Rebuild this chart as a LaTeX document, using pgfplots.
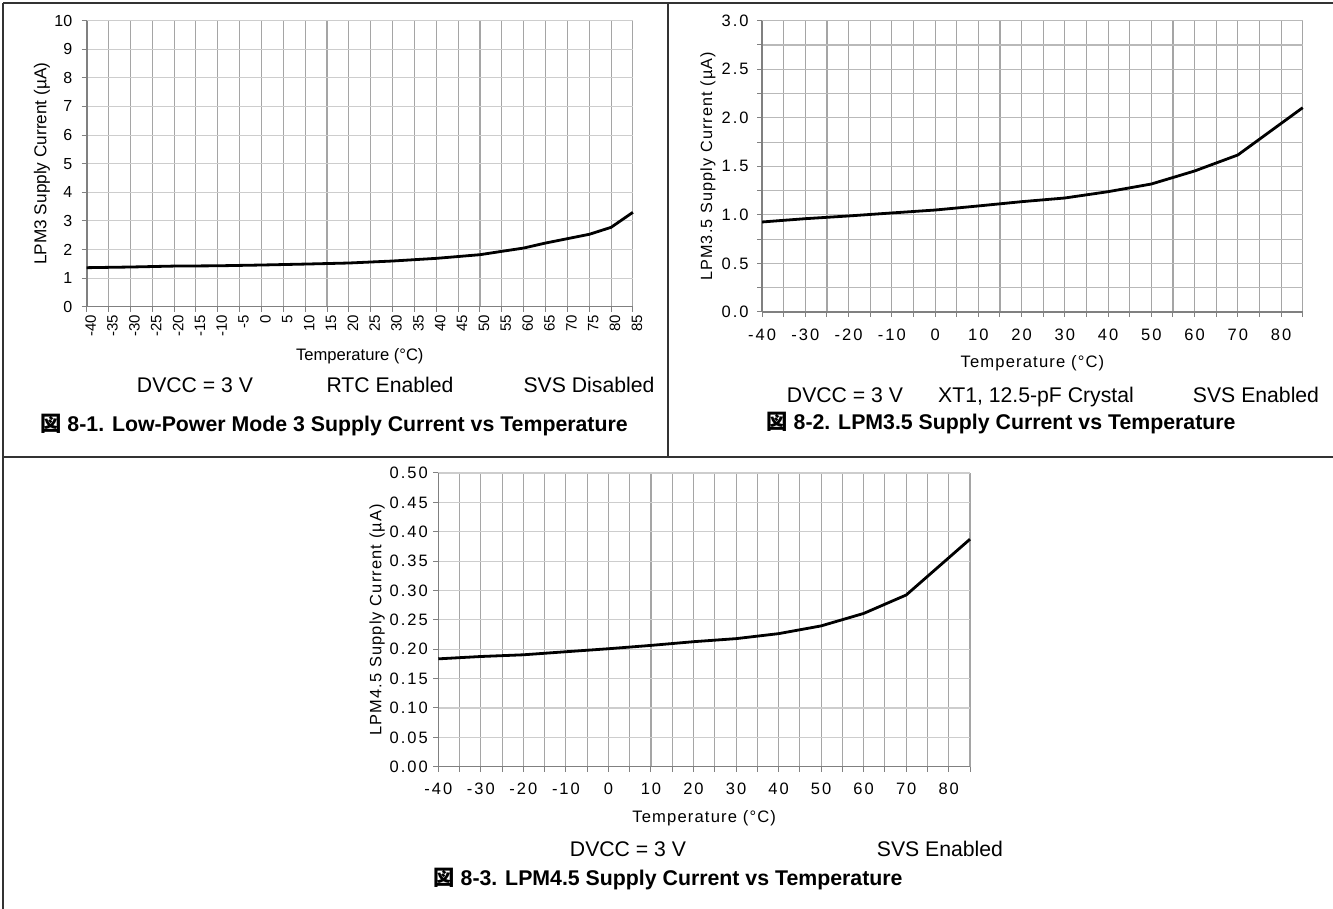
\documentclass[border=0pt]{standalone}
\usepackage{pgfplots}
\pgfplotsset{compat=1.18}
\usepackage{fontspec}
\setmainfont{Liberation Sans}
\newfontfamily\spacedA[LetterSpace=12]{Liberation Sans}
\newfontfamily\spacedB[LetterSpace=7]{Liberation Sans}
\newfontfamily\cjk{Noto Sans CJK SC}
\definecolor{vgrid}{RGB}{165,165,165}
\definecolor{hgrid}{RGB}{205,205,205}
\definecolor{hgridb}{RGB}{185,185,185}
\definecolor{axgray}{RGB}{128,128,128}

\pgfplotstableread{
T I
-40 1.364
-30 1.387
-20 1.420
-10 1.430
0 1.457
10 1.490
20 1.527
30 1.597
40 1.690
50 1.818
55 1.935
60 2.050
65 2.226
70 2.378
75 2.530
80 2.774
85 3.300
}\lpmthree

\pgfplotstableread{
T I
-40 0.927
-30 0.961
-20 0.989
-10 1.020
0 1.050
10 1.092
20 1.136
30 1.174
40 1.239
50 1.318
60 1.452
70 1.617
85 2.104
}\lpmthreefive

\pgfplotstableread{
T I
-40 0.1836
-30 0.1876
-20 0.1905
-10 0.1957
0 0.2008
10 0.2065
20 0.2128
30 0.2180
40 0.2265
50 0.2397
60 0.2609
70 0.2923
85 0.3873
}\lpmfourfive

\pgfplotsset{
  myaxis/.style={
    scale only axis,
    anchor=south west,
    axis lines=left,
    axis line style={-, draw=axgray, line width=1.6pt},
    xmin=-40, xmax=85,
    tick align=outside,
    major tick length=5pt,
    minor tick length=5pt,
    every tick/.style={draw=axgray, line width=1pt},
    major x grid style={draw=vgrid, line width=1.1pt},
    minor x grid style={draw=vgrid, line width=1.1pt},
    major y grid style={draw=hgrid, line width=1.1pt},
    minor y grid style={draw=hgrid, line width=1.1pt},
    /pgf/number format/assume math mode=true,
    clip=false,
  },
  curve/.style={black, line width=2.8pt, no marks, line join=round},
}
\newcommand{\annfont}{\fontsize{21.2}{21.2}\selectfont}
\newcommand{\capfont}{\fontsize{21.3}{21.3}\selectfont\bfseries}

\begin{document}
\begin{tikzpicture}[x=1pt,y=1pt]
\useasboundingbox (0pt,0pt) rectangle (1333pt,909pt);
% frame
\draw[black!80, line width=1.3pt] (3pt,906pt) -- (1333pt,906pt);
\draw[black!80, line width=1.3pt] (3pt,452pt) -- (1333pt,452pt);
\draw[black!80, line width=1.3pt] (3pt,906pt) -- (3pt,0pt);
\draw[black!80, line width=1.3pt] (668pt,906pt) -- (668pt,452pt);

% ---------- Panel 1 ----------
\begin{axis}[myaxis,
  at={(86.7pt,602.3pt)}, width=546.2pt, height=286pt,
  ymin=0, ymax=10,
  xtick={-40,-35,...,85}, ytick={0,1,...,10},
  grid=major,
  x tick label style={rotate=90, anchor=east, yshift=-4pt, font=\fontsize{15}{15}\selectfont},
  y tick label style={xshift=-6pt, font=\fontsize{16}{16}\selectfont},
  xlabel={Temperature (°C)},
  ylabel={LPM3 Supply Current (µA)},
  xlabel style={font=\fontsize{16.6}{16.6}\selectfont, at={(axis description cs:0.5,-0.172)}, anchor=center},
  ylabel style={font=\fontsize{17.2}{17.2}\selectfont, at={(axis description cs:-0.082,0.5)}, anchor=center},
]
\addplot[curve] table {\lpmthree};
\end{axis}
\node[anchor=base, font=\annfont] at (195pt,516pt) {DVCC = 3 V};
\node[anchor=base, font=\annfont] at (390pt,516pt) {RTC Enabled};
\node[anchor=base, font=\annfont] at (589pt,516pt) {SVS Disabled};
\node[anchor=base, font=\capfont] at (334pt,477pt) {{\cjk 図} 8-1. Low-Power Mode 3 Supply Current vs Temperature};

% ---------- Panel 2 ----------
\begin{axis}[myaxis,
  at={(762.1pt,597pt)}, width=540.6pt, height=291.3pt,
  ymin=0, ymax=3,
  xtick={-40,-30,...,80}, minor xtick={-35,-25,...,85},
  ytick={0,0.5,...,3}, minor ytick={0.25,0.75,...,2.75},
  grid=both,
  major y grid style={draw=hgridb, line width=1.1pt},
  minor y grid style={draw=hgridb, line width=1.1pt},
  yticklabel style={xshift=-5pt, /pgf/number format/.cd, fixed, fixed zerofill, precision=1},
  xticklabel style={yshift=-8pt},
  tick label style={font=\spacedA\fontsize{16.5}{16.5}\selectfont},
  xlabel={Temperature (°C)},
  ylabel={LPM3.5 Supply Current (µA)},
  xlabel style={font=\spacedB\fontsize{16.6}{16.6}\selectfont, at={(axis description cs:0.5,-0.176)}, anchor=center},
  ylabel style={font=\spacedB\fontsize{16.2}{16.2}\selectfont, at={(axis description cs:-0.100,0.5)}, anchor=center},
]
\addplot[curve] table {\lpmthreefive};
\end{axis}
\node[anchor=base, font=\annfont] at (845pt,506pt) {DVCC = 3 V};
\node[anchor=base, font=\annfont] at (1036pt,506pt) {XT1, 12.5-pF Crystal};
\node[anchor=base, font=\annfont] at (1256pt,506pt) {SVS Enabled};
\node[anchor=base, font=\capfont] at (1001pt,479pt) {{\cjk 図} 8-2. LPM3.5 Supply Current vs Temperature};

% ---------- Panel 3 ----------
\begin{axis}[myaxis,
  at={(438.3pt,142.3pt)}, width=531.7pt, height=293.7pt,
  ymin=0, ymax=0.5,
  xtick={-40,-30,...,80}, minor xtick={-35,-25,...,85},
  ytick={0,0.05,0.10,0.15,0.20,0.25,0.30,0.35,0.40,0.45,0.50},
  grid=both,
  yticklabel style={xshift=-2pt, /pgf/number format/.cd, fixed, fixed zerofill, precision=2},
  xticklabel style={yshift=-8pt},
  tick label style={font=\spacedA\fontsize{16.5}{16.5}\selectfont},
  xlabel={Temperature (°C)},
  ylabel={LPM4.5 Supply Current (µA)},
  xlabel style={font=\spacedB\fontsize{16.6}{16.6}\selectfont, at={(axis description cs:0.5,-0.176)}, anchor=center},
  ylabel style={font=\spacedB\fontsize{16.4}{16.4}\selectfont, at={(axis description cs:-0.115,0.5)}, anchor=center},
]
\addplot[curve] table {\lpmfourfive};
\end{axis}
\node[anchor=base, font=\annfont] at (628pt,52pt) {DVCC = 3 V};
\node[anchor=base, font=\annfont] at (940pt,52pt) {SVS Enabled};
\node[anchor=base, font=\capfont] at (668pt,23pt) {{\cjk 図} 8-3. LPM4.5 Supply Current vs Temperature};
\end{tikzpicture}
\end{document}
